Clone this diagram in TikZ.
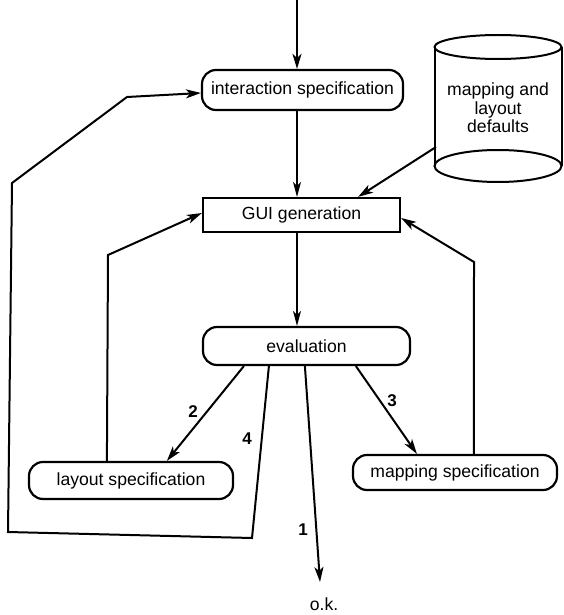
\documentclass[tikz,border=0pt]{standalone}
\usepackage{fontspec}
\setmainfont{Liberation Sans}
\usetikzlibrary{arrows.meta,calc}
\begin{document}
\begin{tikzpicture}[x=1pt,y=-1pt,
  txt/.style={font=\fontsize{17.6}{18.5}\selectfont},
  box/.style={txt,draw,line width=2.2pt,inner sep=0pt},
  rbox/.style={box,rounded corners=14pt},
  arr/.style={-{Stealth[length=15pt,width=9pt,inset=4pt]},line width=2pt},
  tarr/.style={-{Stealth[length=15pt,width=8pt,inset=4pt]},line width=1.3pt},
  lab/.style={font=\fontsize{17}{18}\selectfont\bfseries}]
\useasboundingbox (0,0) rectangle (564,615);

% nodes
\node[rbox,minimum width=201pt,minimum height=40pt] (int) at (302.5,90) {interaction specification};
\node[box,minimum width=197pt,minimum height=34pt] (gui) at (301.5,215) {GUI generation};
\node[rbox,minimum width=207pt,minimum height=38pt] (ev) at (306.5,346) {evaluation};
\node[rbox,minimum width=204pt,minimum height=37pt] (lay) at (131,480.5) {layout specification};
\node[rbox,minimum width=204pt,minimum height=35pt] (map) at (455,472.5) {mapping specification};
\node[txt,align=center] (db) at (498,108) {mapping and\\layout\\defaults};
\node[txt] (ok) at (324,604) {o.k.};

% cylinder
\draw[line width=2pt] (498,47) ellipse [x radius=63.5, y radius=12];
\draw[line width=2pt] (434.5,47) -- (434.5,166);
\draw[line width=2pt] (561.5,47) -- (561.5,166);
\draw[line width=2pt] (498,166) ellipse [x radius=63.5, y radius=16];

% labels
\node[lab] (l2) at (193,412) {2};
\node[lab] (l4) at (247,439) {4};
\node[lab] (l3) at (392,401) {3};
\node[lab] (l1) at (303,530) {1};

% connectors
\coordinate (top) at (297,0);
\draw[arr] (top) -- (top |- int.north);
\draw[tarr] (int.south -| top) -- (gui.north -| top);
\draw[tarr] (gui.south -| top) -- (ev.north -| top);
\coordinate (dbout) at (436,147);
\draw[arr] (dbout) -- ($(gui.north east)+(-43,0)$);

\draw[arr] ($(ev.south west)+(42,0)$) -- ($(lay.north west)+(139,0)$);
\draw[arr] ($(ev.south west)+(154,0)$) -- ($(map.north west)+(65,0)$);
\draw[arr] ($(ev.south west)+(103,0)$) -- ($(ok.north)+(-4,-12)$);
\draw[arr] ($(ev.south west)+(67,0)$) -- (252,538) -- (8,532) -- (12,183) -- (127,97) -- ($(int.west)+(0,3)$);

\draw[arr] ($(lay.north west)+(79,0)$) -- (108,255) -- ($(gui.west)+(0,-2)$);
\draw[arr] ($(map.north west)+(122,0)$) -- (474,262) -- ($(gui.east)+(0,3)$);
\end{tikzpicture}
\end{document}
